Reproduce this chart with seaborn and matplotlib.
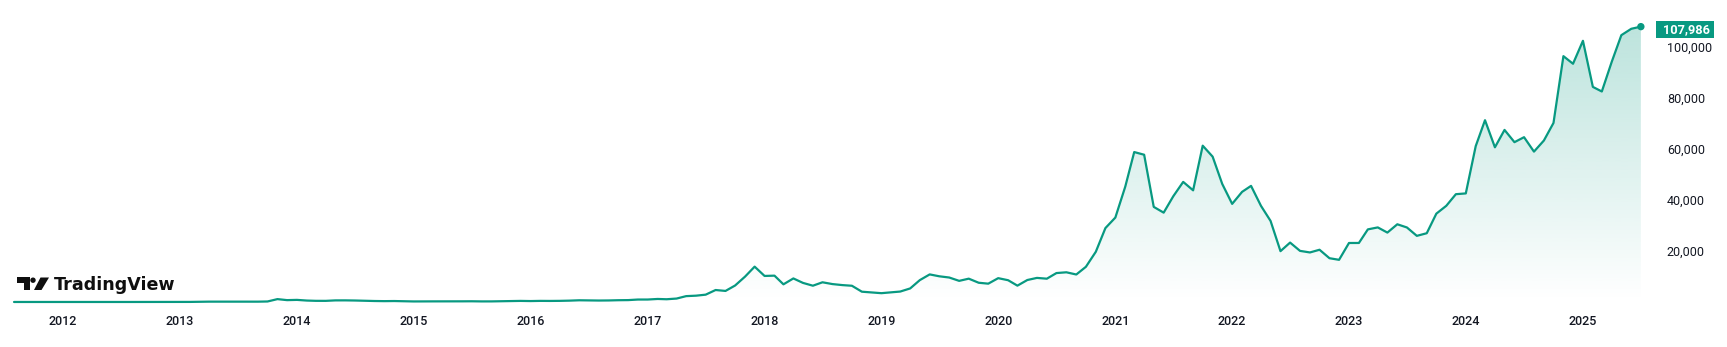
import numpy as np
import pandas as pd
import matplotlib
matplotlib.use("Agg")
import matplotlib.pyplot as plt
import matplotlib.dates as mdates
import matplotlib.transforms as mtransforms
from matplotlib.patches import Polygon, Circle, Rectangle
import seaborn as sns

# ---------------- data (monthly closes, USD) ----------------
start_month = "2011-08-01"
p2011 = [8.2, 5.1, 3.2, 3.0, 4.7]
p2012 = [5.5, 4.9, 4.9, 5.0, 5.2, 6.7, 9.4, 10.2, 12.4, 11.2, 12.6, 13.5]
p2013 = [20.4, 33.4, 93, 139, 129, 97, 106, 135, 133, 204, 1129, 732]
p2014 = [829, 565, 457, 448, 630, 640, 585, 478, 387, 338, 378, 320]
p2015 = [217, 254, 244, 236, 230, 263, 284, 230, 236, 314, 377, 430]
p2016 = [368, 437, 416, 448, 531, 673, 624, 573, 608, 700, 742, 963]
p2017 = [970, 1190, 1080, 1348, 2300, 2480, 2875, 4700, 4340, 6470, 9950, 13860]
p2018 = [10220, 10330, 6930, 9240, 7490, 6390, 7730, 7030, 6630, 6370, 4040, 3740]
p2019 = [3460, 3810, 4100, 5320, 8570, 10820, 10080, 9600, 8290, 9150, 7550, 7190]
p2020 = [9350, 8540, 6410, 8620, 9450, 9140, 11350, 11650, 10780, 13800, 19700, 28990]
p2021 = [33110, 45240, 58800, 57750, 37300, 35040, 41460, 47100, 43790, 61300, 57000, 46300]
p2022 = [38480, 43190, 45540, 37710, 31790, 19940, 23300, 20050, 19430, 20490, 17170, 16540]
p2023 = [23140, 23150, 28480, 29250, 27220, 30480, 29230, 25940, 26970, 34650, 37720, 42280]
p2024 = [42580, 61130, 71290, 60670, 67480, 62680, 64630, 58970, 63330, 70220, 96410, 93430]
p2025 = [102430, 84350, 82550, 94200, 104640, 107140, 107986]
y_ticks = [20000, 40000, 60000, 80000, 100000]

prices = (p2011 + p2012 + p2013 + p2014 + p2015 + p2016 + p2017 + p2018 + p2019
          + p2020 + p2021 + p2022 + p2023 + p2024 + p2025)
months = pd.date_range(start_month, periods=len(prices), freq="MS")
df = pd.DataFrame({"month": months, "price": prices})

# ---------------- style ----------------
GREEN = "#089981"
TEXT = "#131722"
W, H = 1727, 347

sns.set_style("white")
plt.rcParams["font.family"] = ["Roboto", "DejaVu Sans"]

fig = plt.figure(figsize=(W / 100, H / 100), dpi=100)
ax = fig.add_axes([0.0, 1 - 309 / H, 1655 / W, (309 - 10) / H])

# figure-pixel transform (origin top-left)
pxT = mtransforms.Affine2D().scale(1 / W, -1 / H).translate(0, 1) + fig.transFigure

# x scale: Jan 2012 at px 63, 116.9 px per year
ppd = 116.9 / 365.25
ref = mdates.date2num(pd.Timestamp("2012-01-01"))
XL = (ref - 63 / ppd, ref + (1655 - 63) / ppd)
# y scale: 0 at px 302, 2.55 px per 1000
YL = ((302 - 309) / 2.55 * 1000, (302 - 10) / 2.55 * 1000)

# line
sns.lineplot(data=df, x="month", y="price", color=GREEN, linewidth=1.6, ax=ax, zorder=3)

# gradient fill under the line
xnum = mdates.date2num(df["month"])
poly = ax.fill_between(xnum, df["price"], 0, color="none", lw=0)
ymax = max(prices)
grad = np.zeros((256, 1, 4))
rgb = matplotlib.colors.to_rgb(GREEN)
grad[:, 0, 0] = rgb[0]
grad[:, 0, 1] = rgb[1]
grad[:, 0, 2] = rgb[2]
grad[:, 0, 3] = np.linspace(0.27, 0.0, 256)
im = ax.imshow(grad, aspect="auto", extent=[xnum[0], xnum[-1], 0, ymax],
               origin="upper", zorder=1, interpolation="bilinear")
im.set_clip_path(poly.get_paths()[0], transform=ax.transData)
ax.set_xlim(*XL)
ax.set_ylim(*YL)

# end point dot
sns.scatterplot(x=[df["month"].iloc[-1]], y=[prices[-1]], color=GREEN, s=28,
                edgecolor="none", ax=ax, zorder=4, legend=False)

# axes
ax.set_xlabel("")
ax.set_ylabel("")
for s in ax.spines.values():
    s.set_visible(False)
ax.xaxis.set_major_locator(mdates.YearLocator())
ax.xaxis.set_major_formatter(mdates.DateFormatter("%Y"))
ax.yaxis.tick_right()
ax.set_yticks(y_ticks)
ax.set_yticklabels([f"{v:,}" for v in y_ticks])
ax.tick_params(axis="y", length=0, pad=8.5, labelsize=9, labelcolor=TEXT)
ax.tick_params(axis="x", length=0, pad=4.5, labelsize=9, labelcolor=TEXT)
for lbl in ax.get_yticklabels():
    lbl.set_horizontalalignment("left")
for lbl in ax.get_xticklabels():
    lbl.set_fontweight("medium")
ax.grid(False)
ax.set_facecolor("white")

# last price tag (box aligned to the last value)
fig.canvas.draw()
y_disp = ax.transData.transform((XL[0], prices[-1]))[1]
y_px = H - y_disp  # figure pixel from top
box_cy = y_px + 2.5
fig.patches.append(Rectangle((1656, box_cy - 8.4), 58.5, 16.8, fc=GREEN, ec="none",
                             transform=pxT, figure=fig))
fig.text(1687 / W, 1 - (box_cy + 0.3) / H, f"{prices[-1]:,}", color="white", fontsize=9.2,
         fontweight="bold", ha="center", va="center")

# TradingView logo + wordmark
LOGO = "#0f0f0f"
fig.patches.append(Polygon([(17.5, 277.5), (30, 277.5), (30, 290), (24, 290),
                            (24, 282.7), (17.5, 282.7)], closed=True, fc=LOGO, ec="none",
                           transform=pxT, figure=fig))
fig.patches.append(Circle((33.0, 280.2), 2.7, fc=LOGO, ec="none", transform=pxT, figure=fig))
fig.patches.append(Polygon([(40.5, 277.5), (49.0, 277.5), (41.5, 290), (34.0, 290)],
                           closed=True, fc=LOGO, ec="none", transform=pxT, figure=fig))
fig.text(53.5 / W, 1 - 290.3 / H, "TradingView", fontsize=12.6, fontweight="bold",
         family="DejaVu Sans", color=LOGO, ha="left", va="baseline")

fig.savefig("out.png", dpi=100, facecolor="white")
